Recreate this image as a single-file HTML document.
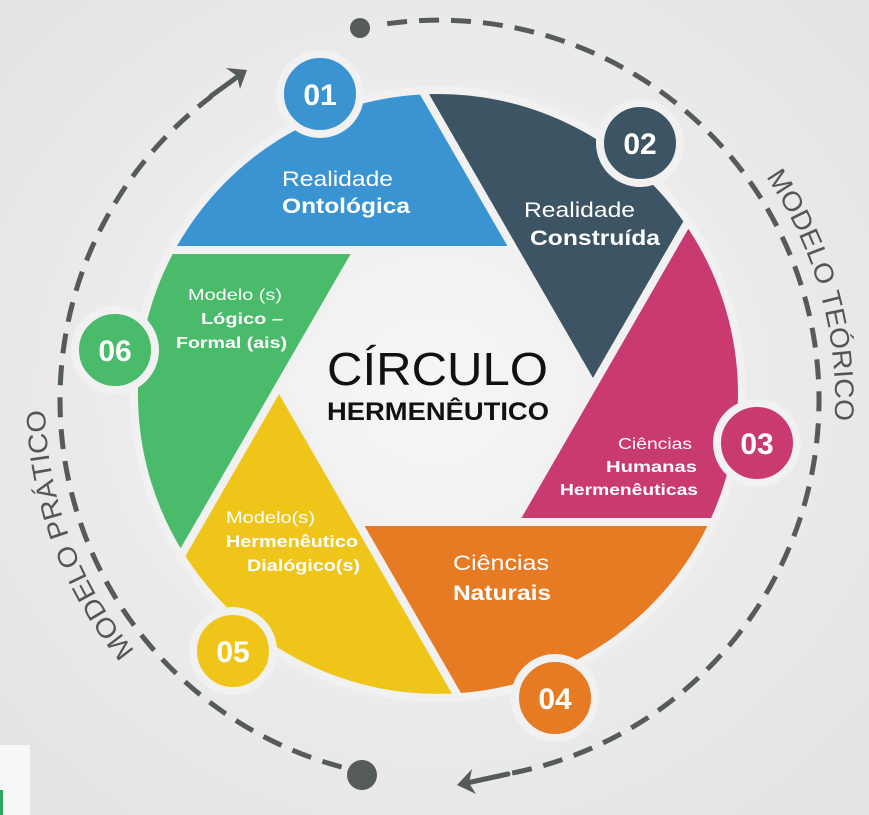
<!DOCTYPE html>
<html><head><meta charset="utf-8"><style>
html,body{margin:0;padding:0;width:869px;height:815px;overflow:hidden}
svg{display:block}
text{font-family:"Liberation Sans",sans-serif}
</style></head><body>
<svg width="869" height="815" viewBox="0 0 869 815" xmlns="http://www.w3.org/2000/svg">
<defs>
<radialGradient id="bg" cx="0.5" cy="0.48" r="0.65">
<stop offset="0" stop-color="#f6f6f6"/><stop offset="1" stop-color="#e4e4e4"/>
</radialGradient>
<path id="tR" d="M763.6,173.4 A395,395 0 0 1 831.2,455"/>
<path id="tL" d="M137.4,653.9 A395,395 0 0 1 46.5,365.6"/>
</defs>
<rect width="869" height="815" fill="url(#bg)"/>
<rect x="0" y="745" width="30" height="70" fill="#f7f7f7"/>
<rect x="0" y="790" width="3" height="25" fill="#2aa55a"/>

<!-- dashed arcs -->
<path d="M387.2,23.7 A380,380 0 0 1 506,774.2" fill="none" stroke="#555a5a" stroke-width="5" stroke-dasharray="20 12"/>
<path d="M341.6,767 A380,380 0 0 1 211.3,96.5" fill="none" stroke="#555a5a" stroke-width="5" stroke-dasharray="20 12"/>
<g stroke="#555a5a" stroke-width="5" stroke-linecap="round">
<line x1="508" y1="774" x2="462" y2="784"/>
<line x1="211" y1="96" x2="240" y2="75"/>
</g>
<g fill="#555a5a">
<polygon points="457,785 476,794 469,783 472,769"/>
<polygon points="247,70 226,68 237,76 240,89"/>
</g>
<circle cx="360" cy="28" r="10" fill="#555a5a"/>
<circle cx="362" cy="775" r="15" fill="#555a5a"/>

<text font-size="27" fill="#555" textLength="258" lengthAdjust="spacingAndGlyphs"><textPath href="#tR" startOffset="4">MODELO TEÓRICO</textPath></text>
<text font-size="27" fill="#555" textLength="262" lengthAdjust="spacingAndGlyphs"><textPath href="#tL" startOffset="4">MODELO PRÁTICO</textPath></text>

<!-- blades -->
<g stroke="#f1f1f1" stroke-width="8" stroke-linejoin="miter">
<path d="M170.3,250 L514.5,250 L422.3,90.4 A304,304 0 0 0 170.3,250 Z" fill="#3a94d1"/>
<path d="M422.3,90.4 L593,386 L688.1,221.2 A304,304 0 0 0 422.3,90.4 Z" fill="#3c5464"/>
<path d="M688.1,221.2 L514.5,522 L713.7,522 A304,304 0 0 0 688.1,221.2 Z" fill="#c93a71"/>
<path d="M713.7,522 L357.5,522 L458.7,697.2 A304,304 0 0 0 713.7,522 Z" fill="#e67b24"/>
<path d="M458.7,697.2 L279,386 L180.7,556.1 A304,304 0 0 0 458.7,697.2 Z" fill="#efc51a"/>
<path d="M180.7,556.1 L357.5,250 L170.3,250 A304,304 0 0 0 180.7,556.1 Z" fill="#4aba6b"/>
</g>

<!-- number circles -->
<g stroke="#f1f1f1" stroke-width="8">
<circle cx="320" cy="94" r="40" fill="#3a94d1"/>
<circle cx="640" cy="143" r="40" fill="#3c5464"/>
<circle cx="757" cy="443" r="40" fill="#c93a71"/>
<circle cx="555" cy="698" r="40" fill="#e67b24"/>
<circle cx="233" cy="651" r="40" fill="#efc51a"/>
<circle cx="115" cy="350" r="40" fill="#4aba6b"/>
</g>
<g fill="#fff" font-weight="bold" font-size="30" text-anchor="middle">
<text x="320" y="105">01</text>
<text x="640" y="154">02</text>
<text x="757" y="454">03</text>
<text x="555" y="709">04</text>
<text x="233" y="662">05</text>
<text x="115" y="361">06</text>
</g>

<!-- center -->
<text x="327" y="385" font-size="46" fill="#111" textLength="221" lengthAdjust="spacingAndGlyphs">CÍRCULO</text>
<text x="327" y="420" font-size="25" font-weight="bold" fill="#111" textLength="222" lengthAdjust="spacingAndGlyphs">HERMENÊUTICO</text>

<!-- blade labels -->
<g fill="#fff">
<text x="282" y="186" font-size="21" textLength="111" lengthAdjust="spacingAndGlyphs">Realidade</text>
<text x="282" y="213" font-size="21" font-weight="bold" textLength="128" lengthAdjust="spacingAndGlyphs">Ontológica</text>
<text x="524" y="217" font-size="21" textLength="111" lengthAdjust="spacingAndGlyphs">Realidade</text>
<text x="530" y="245" font-size="21" font-weight="bold" textLength="130" lengthAdjust="spacingAndGlyphs">Construída</text>
<text x="188" y="300" font-size="16" textLength="94" lengthAdjust="spacingAndGlyphs">Modelo (s)</text>
<text x="201" y="324" font-size="16" font-weight="bold" textLength="82" lengthAdjust="spacingAndGlyphs">Lógico –</text>
<text x="176" y="348" font-size="16" font-weight="bold" textLength="111" lengthAdjust="spacingAndGlyphs">Formal (ais)</text>
<text x="618" y="449" font-size="16" textLength="74" lengthAdjust="spacingAndGlyphs">Ciências</text>
<text x="606" y="472" font-size="16" font-weight="bold" textLength="91" lengthAdjust="spacingAndGlyphs">Humanas</text>
<text x="560" y="495" font-size="16" font-weight="bold" textLength="138" lengthAdjust="spacingAndGlyphs">Hermenêuticas</text>
<text x="226" y="523" font-size="17" textLength="89" lengthAdjust="spacingAndGlyphs">Modelo(s)</text>
<text x="226" y="547" font-size="17" font-weight="bold" textLength="132" lengthAdjust="spacingAndGlyphs">Hermenêutico</text>
<text x="247" y="571" font-size="17" font-weight="bold" textLength="113" lengthAdjust="spacingAndGlyphs">Dialógico(s)</text>
<text x="453" y="570" font-size="21" textLength="96" lengthAdjust="spacingAndGlyphs">Ciências</text>
<text x="453" y="600" font-size="21" font-weight="bold" textLength="98" lengthAdjust="spacingAndGlyphs">Naturais</text>
</g>
</svg>
</body></html>
